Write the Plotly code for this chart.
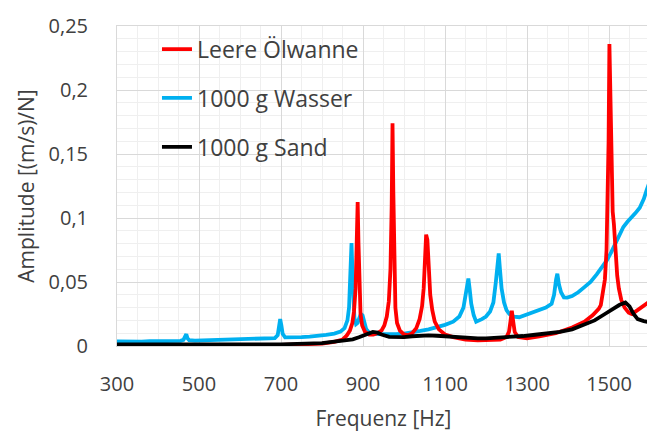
import plotly.graph_objects as go

# Leere Ölwanne (red)
f_red = [300, 350, 400, 450, 500, 550, 600, 650, 700, 750, 800, 830, 850, 860, 868, 874, 878, 882, 885, 887,
         889, 891, 894, 898, 905, 915, 925, 935, 945, 952, 958, 963, 967, 970, 972, 974, 976, 979, 983, 990,
         1000, 1010, 1020, 1030, 1038, 1044, 1048, 1051, 1054, 1057, 1060, 1064, 1069, 1075, 1085, 1100, 1120,
         1150, 1180, 1210, 1235, 1250, 1256, 1260, 1263, 1266, 1270, 1278, 1300, 1330, 1370, 1410, 1440, 1460,
         1475, 1480, 1486, 1490, 1494, 1497, 1499, 1501, 1503, 1506, 1509, 1512, 1516, 1520, 1524, 1530, 1538,
         1548, 1556, 1570, 1585, 1600]
a_red = [0.0008, 0.0007, 0.0008, 0.0006, 0.0007, 0.0008, 0.0007, 0.0008, 0.0009, 0.0011, 0.0018, 0.0032, 0.005, 0.008, 0.012, 0.018, 0.027, 0.045, 0.075, 0.1125,
         0.08, 0.045, 0.025, 0.016, 0.011, 0.009, 0.009, 0.010, 0.012, 0.016, 0.023, 0.035, 0.06, 0.11, 0.174, 0.12, 0.06, 0.03, 0.018, 0.012,
         0.009, 0.0085, 0.010, 0.014, 0.021, 0.031, 0.045, 0.065, 0.087, 0.083, 0.06, 0.04, 0.028, 0.019, 0.013, 0.009, 0.007,
         0.005, 0.0045, 0.0045, 0.005, 0.007, 0.011, 0.02, 0.0276, 0.02, 0.011, 0.007, 0.006, 0.0075, 0.010, 0.0145, 0.019, 0.024,
         0.029, 0.032, 0.042, 0.052, 0.075, 0.11, 0.16, 0.236, 0.19, 0.13, 0.105, 0.095, 0.072, 0.055, 0.045, 0.036, 0.03,
         0.026, 0.025, 0.028, 0.031, 0.035]

# 1000 g Wasser (blue)
f_blue = [300, 320, 340, 360, 380, 400, 420, 440, 455, 462, 466, 469, 472, 476, 490, 510, 530, 550, 570, 590,
          610, 630, 650, 670, 685, 692, 695, 698, 701, 704, 710, 730, 750, 770, 790, 810, 830, 845, 855, 862,
          866, 869, 872, 874, 876, 879, 883, 887, 891, 895, 899, 903, 908, 915, 925, 940, 960, 980, 1000, 1020,
          1040, 1060, 1080, 1100, 1120, 1135, 1145, 1151, 1155, 1157, 1160, 1164, 1170, 1176, 1190, 1200, 1210,
          1218, 1224, 1228, 1231, 1234, 1238, 1244, 1250, 1257, 1268, 1281, 1295, 1310, 1325, 1346, 1360, 1366,
          1371, 1374, 1378, 1383, 1390, 1398, 1410, 1425, 1440, 1455, 1470, 1485, 1495, 1505, 1515, 1525, 1535,
          1545, 1555, 1565, 1575, 1585, 1592, 1600]
a_blue = [0.0035, 0.0033, 0.0036, 0.0034, 0.0037, 0.0036, 0.0039, 0.0037, 0.004, 0.0048, 0.0068, 0.0092, 0.006, 0.0045, 0.0042, 0.0044, 0.0043, 0.0046, 0.0045, 0.0049,
          0.0048, 0.0052, 0.0054, 0.0057, 0.0062, 0.0085, 0.014, 0.021, 0.016, 0.0095, 0.0068, 0.0066, 0.0069, 0.0074, 0.0079, 0.0087, 0.0097, 0.0112, 0.014, 0.02,
          0.03, 0.05, 0.0805, 0.06, 0.035, 0.022, 0.017, 0.018, 0.022, 0.025, 0.024, 0.018, 0.013, 0.0105, 0.0095, 0.0092, 0.009, 0.0092, 0.0097, 0.0105,
          0.0118, 0.013, 0.0145, 0.0165, 0.019, 0.023, 0.03, 0.04, 0.05, 0.0527, 0.045, 0.033, 0.024, 0.019, 0.021, 0.023, 0.027,
          0.034, 0.05, 0.065, 0.0723, 0.06, 0.045, 0.034, 0.028, 0.025, 0.023, 0.0225, 0.024, 0.0255, 0.027, 0.030, 0.033, 0.04,
          0.052, 0.0565, 0.048, 0.042, 0.038, 0.0378, 0.039, 0.042, 0.046, 0.050, 0.056, 0.062, 0.067, 0.073, 0.080, 0.087, 0.093,
          0.097, 0.100, 0.104, 0.108, 0.115, 0.122, 0.129]

# 1000 g Sand (black)
f_black = [300, 350, 400, 450, 500, 550, 600, 650, 700, 750, 780, 800, 820, 840, 860, 875, 890, 905, 915, 924,
           935, 945, 964, 980, 1000, 1020, 1040, 1060, 1080, 1100, 1120, 1150, 1180, 1200, 1230, 1260, 1290, 1320,
           1350, 1380, 1410, 1440, 1465, 1490, 1510, 1525, 1540, 1550, 1560, 1570, 1585, 1600]
a_black = [0.0012, 0.0011, 0.0012, 0.001, 0.0011, 0.0012, 0.0011, 0.0012, 0.0013, 0.0015, 0.0018, 0.0022, 0.003, 0.0038, 0.0046, 0.0052, 0.0068, 0.0088, 0.0102, 0.011,
           0.0104, 0.009, 0.0072, 0.0068, 0.007, 0.0076, 0.008, 0.0083, 0.008, 0.0075, 0.007, 0.0064, 0.006, 0.006, 0.0065, 0.007, 0.0078, 0.0088,
           0.0098, 0.011, 0.013, 0.0165, 0.020, 0.025, 0.029, 0.032, 0.034, 0.031, 0.025, 0.021, 0.0195, 0.0185]

x_ticks = [300, 500, 700, 900, 1100, 1300, 1500]
y_ticks = [0, 0.05, 0.1, 0.15, 0.2, 0.25]
y_ticktext = ["0", "0,05", "0,1", "0,15", "0,2", "0,25"]
x_title = "Frequenz [Hz]"
y_title = "Amplitude [(m/s)/N]"

FONT = "Open Sans"
TXT = "#404040"

fig = go.Figure()
fig.add_trace(go.Scatter(x=f_blue, y=a_blue, mode="lines", name="1000 g Wasser",
                         line=dict(color="#00b0f0", width=3.8), legendrank=2, legendgroup="b"))
fig.add_trace(go.Scatter(x=f_red, y=a_red, mode="lines", name="Leere Ölwanne",
                         line=dict(color="#ff0000", width=3.8), legendrank=1, legendgroup="a"))
fig.add_trace(go.Scatter(x=f_black, y=a_black, mode="lines", name="1000 g Sand",
                         line=dict(color="#000000", width=3.8), legendrank=3, legendgroup="c"))

# page body has an 8px default margin, so the figure is sized/offset for it
fig.update_layout(
    width=647, height=426,
    margin=dict(l=109, r=4, t=12, b=88),
    paper_bgcolor="white", plot_bgcolor="white",
    separators=",.",
    font=dict(family=FONT, color=TXT, size=20),
    showlegend=True,
    legend=dict(x=0.075, y=0.995, xanchor="left", yanchor="top", bgcolor="rgba(255,255,255,0)",
                font=dict(size=23, color=TXT), traceorder="grouped", tracegroupgap=16,
                borderwidth=0),
)
fig.update_xaxes(range=[300, 1600], tickvals=x_ticks, ticktext=[str(v) for v in x_ticks],
                 showgrid=True, gridcolor="#d9d9d9", gridwidth=1,
                 minor=dict(dtick=50, tick0=300, showgrid=True, gridcolor="#efefef", gridwidth=1),
                 showline=True, linecolor="#d9d9d9", mirror=True, zeroline=False,
                 ticks="", ticklabelstandoff=20, tickfont=dict(size=20, color=TXT),
                 ticklabeloverflow="allow",
                 title=dict(text=x_title, font=dict(size=21, color=TXT), standoff=15))
fig.update_yaxes(range=[0, 0.25], tickvals=y_ticks, ticktext=y_ticktext,
                 showgrid=True, gridcolor="#d9d9d9", gridwidth=1,
                 minor=dict(dtick=0.01, tick0=0, showgrid=True, gridcolor="#efefef", gridwidth=1),
                 showline=True, linecolor="#d9d9d9", mirror=True, zeroline=False,
                 ticks="", ticklabelstandoff=24, tickfont=dict(size=20, color=TXT),
                 ticklabeloverflow="allow",
                 title=dict(text=y_title, font=dict(size=21, color=TXT), standoff=8))

fig.write_html("out.html")
